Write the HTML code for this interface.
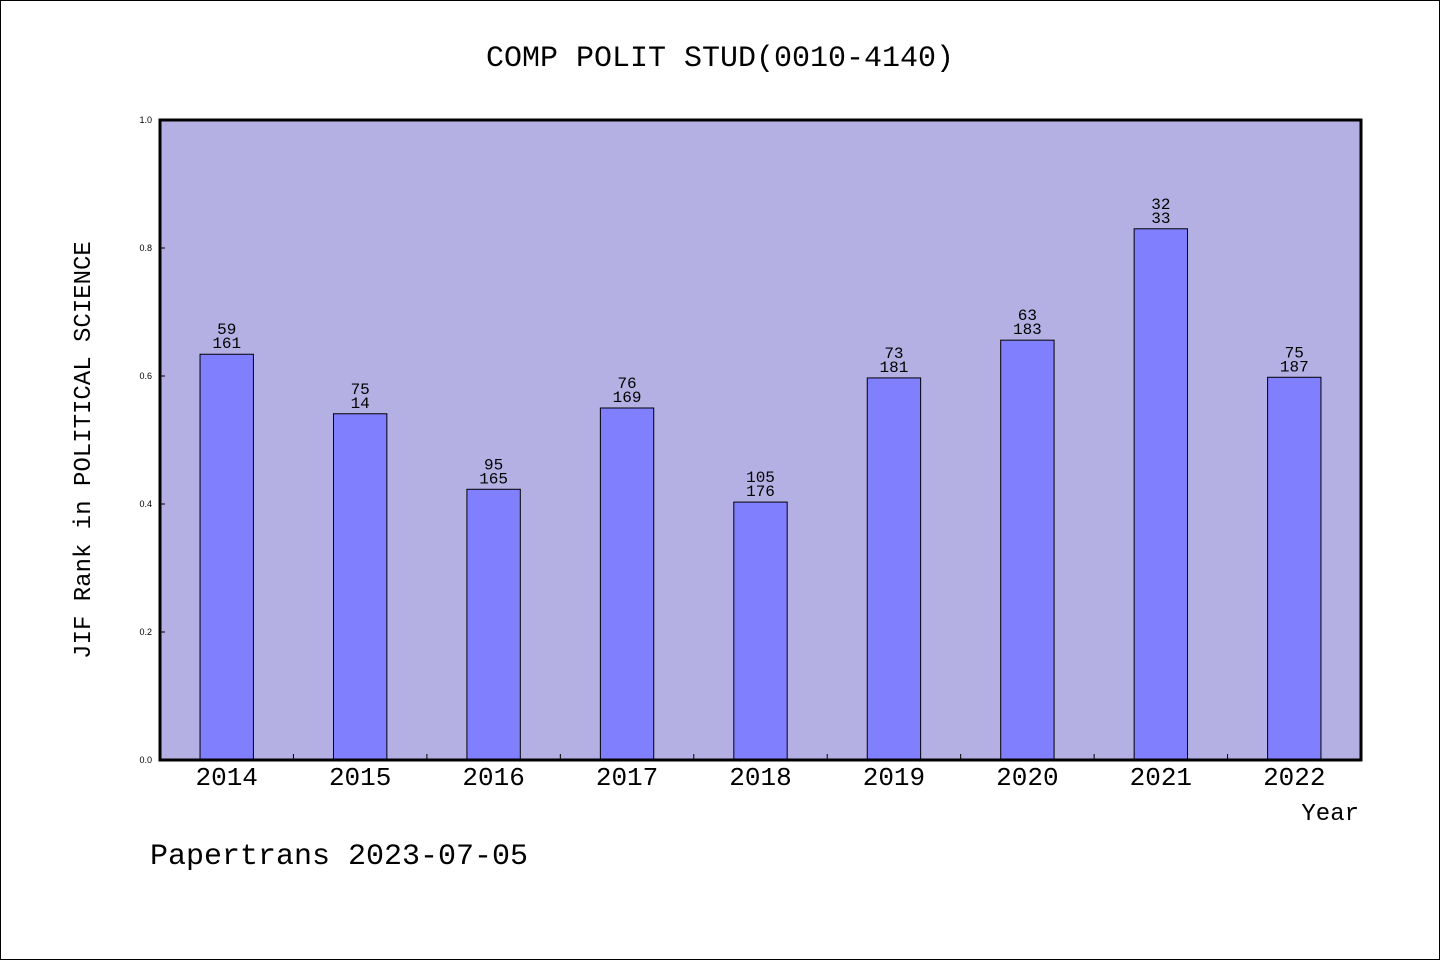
<!DOCTYPE html>
<html><head><meta charset="utf-8"><style>
body{margin:0;background:#fff;}
svg{display:block;font-family:"WenQuanYi Zen Hei","Liberation Mono",monospace;}
</style></head><body>
<svg id="c" width="1440" height="960">
<rect x="0.5" y="0.5" width="1439" height="959" fill="#fff" stroke="#000"/>
<text x="720" y="66" text-anchor="middle" font-size="30">COMP POLIT STUD(0010-4140)</text>
<rect x="160" y="120" width="1201" height="640" fill="#b5b0e3"/>
<g id="bars"></g>
<rect x="160" y="120" width="1201" height="640" fill="none" stroke="#000" stroke-width="3"/>
<text transform="translate(90,450) rotate(-90)" text-anchor="middle" font-size="24">JIF Rank in POLITICAL SCIENCE</text>
<text x="1359" y="820" text-anchor="end" font-size="24">Year</text>
<text x="150" y="864" font-size="30">Papertrans 2023-07-05</text>
</svg>
<script>
const years=["2014","2015","2016","2017","2018","2019","2020","2021","2022"];
const values=[0.634,0.541,0.423,0.550,0.403,0.597,0.656,0.830,0.598];
const ranks=["59","75","95","76","105","73","63","32","75"];
const totals=["161","14","165","169","176","181","183","33","187"];
const yTicks=[0,0.2,0.4,0.6,0.8,1.0];
const X0=160,W=1201,Y0=760,H=640,band=W/years.length;
const y=v=>Y0-v*H, xc=i=>X0+band*(i+0.5);
const g=document.getElementById('bars'),svg=document.getElementById('c'),NS="http://www.w3.org/2000/svg";
function mk(t,a,p){const e=document.createElementNS(NS,t);for(const k in a)e.setAttribute(k,a[k]);(p||g).appendChild(e);return e;}
yTicks.forEach(v=>{
 const t=mk('text',{x:152,y:y(v)+3,'text-anchor':'end','font-size':9,'font-family':'Liberation Sans,sans-serif'},svg);t.textContent=v.toFixed(1);
 
 
 const l=mk('line',{x1:160,x2:165,y1:y(v),y2:y(v),stroke:'#000'});
 
 
});
years.forEach((yr,i)=>{
 const bw=band*0.4,v=values[i];
 const r=mk('rect',{x:xc(i)-bw/2,y:y(v),width:bw,height:Y0-y(v),fill:'#8080ff',stroke:'#000','stroke-width':1});
 
 
 const a=mk('text',{x:xc(i),y:y(v)-20,'text-anchor':'middle','font-size':16});a.textContent=ranks[i];
 
 
 const b=mk('text',{x:xc(i),y:y(v)-6,'text-anchor':'middle','font-size':16});b.textContent=totals[i];
 
 
 const xl=mk('text',{x:xc(i),y:785,'text-anchor':'middle','font-size':26},svg);xl.textContent=yr;
 
 
 if(i>0){const tk=mk('line',{x1:X0+band*i,x2:X0+band*i,y1:760,y2:754,stroke:'#000'});
 
 }
});
</script>
</body></html>
